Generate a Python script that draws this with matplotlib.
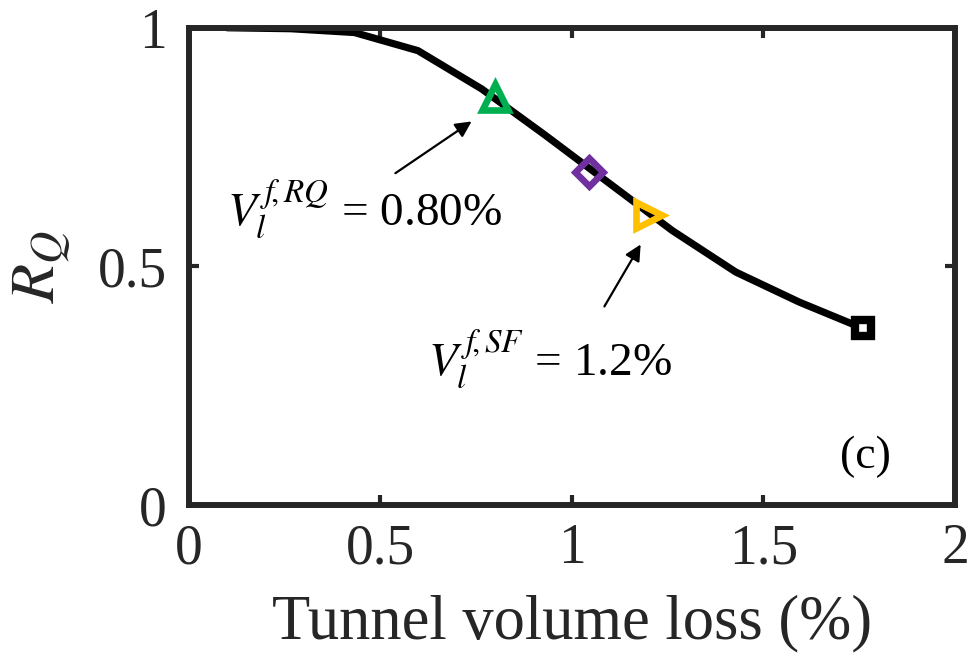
import numpy as np
import matplotlib
matplotlib.use("Agg")
import matplotlib.pyplot as plt

plt.rcParams['font.family'] = ['Liberation Serif', 'DejaVu Serif']
plt.rcParams['mathtext.fontset'] = 'stix'

# Ratio R_Q against tunnel volume loss
vl = [0.1, 0.266, 0.432, 0.598, 0.764, 0.93, 1.096, 1.262, 1.428, 1.594, 1.76]
rq = [1.0, 0.998, 0.99, 0.952, 0.872, 0.775, 0.675, 0.575, 0.488, 0.425, 0.37]

# highlighted points on the curve
vl_rq, rq_rq = 0.80, 0.855      # RQ threshold
vl_mid, rq_mid = 1.045, 0.697
vl_sf, rq_sf = 1.20, 0.608      # SF threshold
vl_end, rq_end = 1.76, 0.37

xticks = [0, 0.5, 1, 1.5, 2]
yticks = [0, 0.5, 1]
dark = '#262626'

fig = plt.figure(figsize=(9.69, 6.61), dpi=100)
ax = fig.add_axes([0.195, 0.236, 0.7905, 0.722])

ax.plot(vl, rq, color='black', lw=5.2, solid_capstyle='round',
        solid_joinstyle='round', zorder=2)
ax.plot(vl_rq, rq_rq, marker='^', ms=19, mfc='none', mec='#00B050', mew=4.8, zorder=3)
ax.plot(vl_mid, rq_mid, marker='D', ms=14, mfc='none', mec='#7030A0', mew=4.8, zorder=3)
ax.plot(vl_sf, rq_sf, marker='>', ms=19, mfc='none', mec='#FFC000', mew=4.8, zorder=3)
ax.plot(vl_end, rq_end, marker='s', ms=11, mfc='white', mec='black', mew=6, zorder=3)

ax.annotate('', xy=(0.744, 0.807), xytext=(0.533, 0.692),
            arrowprops=dict(arrowstyle='-|>', color='black', lw=1.6,
                            mutation_scale=24))
ax.annotate('', xy=(1.183, 0.551), xytext=(1.081, 0.411),
            arrowprops=dict(arrowstyle='-|>', color='black', lw=1.6,
                            mutation_scale=24))

ax.text(0.10, 0.587, r'$V_l^{\,f\!,RQ}$ = 0.80%', fontsize=34, color='black')
ax.text(0.624, 0.273, r'$V_l^{\,f\!,SF}$ = 1.2%', fontsize=34, color='black')
ax.text(1.765, 0.10, '(c)', fontsize=33, ha='center', va='center', color='black')

ax.set_xlim(0, 2)
ax.set_ylim(0, 1)
ax.set_xticks(xticks)
ax.set_xticklabels(['0', '0.5', '1', '1.5', '2'])
ax.set_yticks(yticks)
ax.set_yticklabels(['0', '0.5', '1'])

for s in ax.spines.values():
    s.set_linewidth(4.3)
    s.set_color(dark)
ax.tick_params(direction='in', length=7, width=3, colors=dark, labelsize=40,
               top=True, right=True, labelcolor=dark)
ax.tick_params(axis='x', pad=13)
ax.tick_params(axis='y', pad=16)

ax.set_xlabel('Tunnel volume loss (%)', fontsize=45, color=dark, labelpad=14)
ax.set_ylabel(r'$R_Q$', fontsize=46, color=dark, labelpad=18)

fig.savefig('out.png', dpi=100)
